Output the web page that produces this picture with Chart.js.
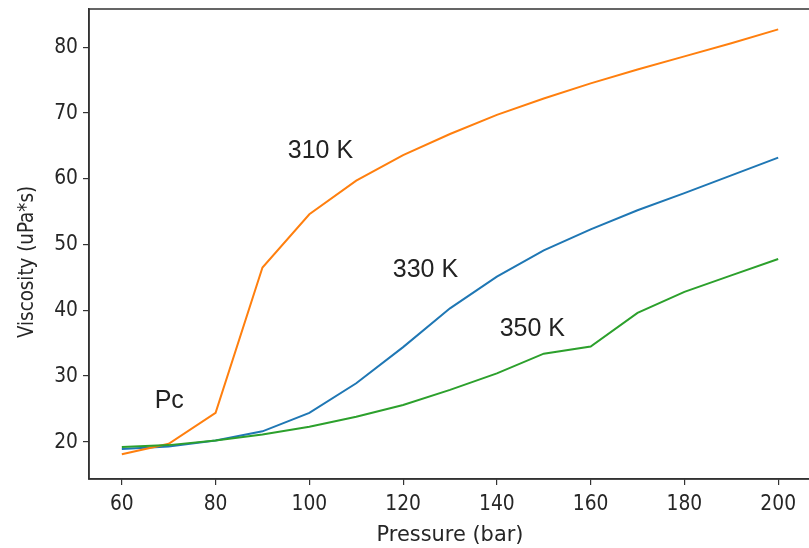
<!DOCTYPE html>
<html>
<head>
<meta charset="utf-8">
<script src="https://cdn.jsdelivr.net/npm/chart.js@4/dist/chart.umd.min.js"></script>
<style>
  html, body { margin: 0; padding: 0; background: #fff; overflow: hidden; }
  #wrap { position: absolute; left: 0; top: 0; width: 816px; height: 548px; }
</style>
</head>
<body>
<div id="wrap"><canvas id="c" width="816" height="548"></canvas></div>
<script>
// Pressure in bar
const pressures = [60, 70, 80, 90, 100, 110, 120, 130, 140, 150, 160, 170, 180, 190, 200];
// Viscosity in uPa*s at each temperature
const visc310 = [18.1, 19.7, 24.4, 46.5, 54.6, 59.7, 63.6, 66.8, 69.7, 72.2, 74.5, 76.6, 78.6, 80.6, 82.7];
const visc330 = [18.9, 19.3, 20.2, 21.6, 24.4, 28.9, 34.4, 40.3, 45.1, 49.1, 52.3, 55.2, 57.8, 60.5, 63.2];
const visc350 = [19.2, 19.5, 20.2, 21.1, 22.3, 23.8, 25.6, 27.9, 30.4, 33.4, 34.5, 39.6, 42.8, 45.3, 47.8];

const xTicks = [60, 80, 100, 120, 140, 160, 180, 200];
const yTicks = [20, 30, 40, 50, 60, 70, 80];
const xTickLabels = ['60', '80', '100', '120', '140', '160', '180', '200'];
const yTickLabels = ['20', '30', '40', '50', '60', '70', '80'];
const xTitle = 'Pressure (bar)';
const yTitle = 'Viscosity (uPa*s)';

// Text labels placed in data coordinates
const labels = [
  { text: '310 K', x: 95.4, y: 63.1 },
  { text: '330 K', x: 117.8, y: 45.0 },
  { text: '350 K', x: 140.6, y: 36.1 },
  { text: 'Pc', x: 67.0, y: 25.1 }
];

const toPoints = vals => pressures.map((p, i) => ({ x: p, y: vals[i] }));

const frameColor = '#333333';
const textColor = '#262626';

// Draw a string narrowed along its own direction by the given factor
function narrowText(ctx, str, x, y, fontPx, squeeze, align, rotate) {
  ctx.save();
  ctx.translate(x, y);
  if (rotate) ctx.rotate(rotate);
  ctx.scale(squeeze, 1);
  ctx.font = fontPx + 'px "DejaVu Sans", sans-serif';
  ctx.fillStyle = textColor;
  ctx.textAlign = align;
  ctx.textBaseline = 'middle';
  ctx.fillText(str, 0, 0);
  ctx.restore();
}

const annotate = {
  id: 'annotate',
  afterDatasetsDraw(chart) {
    const { ctx, scales } = chart;
    ctx.save();
    ctx.font = '25px "Liberation Sans", Arial, sans-serif';
    ctx.fillStyle = '#222';
    ctx.textAlign = 'left';
    ctx.textBaseline = 'alphabetic';
    labels.forEach(l => {
      ctx.fillText(l.text, scales.x.getPixelForValue(l.x), scales.y.getPixelForValue(l.y));
    });
    ctx.restore();
  },
  afterDraw(chart) {
    const a = chart.chartArea;
    const ctx = chart.ctx;
    const { x, y } = chart.scales;
    ctx.save();
    ctx.strokeStyle = frameColor;
    ctx.lineWidth = 1.5;
    ctx.strokeRect(a.left, a.top, a.right - a.left, a.bottom - a.top);
    ctx.restore();
    xTicks.forEach((v, i) => narrowText(ctx, xTickLabels[i], x.getPixelForValue(v), a.bottom + 25, 22, 0.85, 'center'));
    yTicks.forEach((v, i) => narrowText(ctx, yTickLabels[i], a.left - 11, y.getPixelForValue(v), 22, 0.85, 'right'));
    narrowText(ctx, xTitle, (a.left + a.right) / 2, 535, 22, 0.95, 'center');
    narrowText(ctx, yTitle, 27, 262, 22, 0.83, 'center', -Math.PI / 2);
  }
};

new Chart(document.getElementById('c'), {
  type: 'line',
  data: {
    datasets: [
      { label: '330 K', data: toPoints(visc330), borderColor: '#1f77b4', order: 2 },
      { label: '310 K', data: toPoints(visc310), borderColor: '#ff7f0e', order: 1 },
      { label: '350 K', data: toPoints(visc350), borderColor: '#2ca02c', order: 0 }
    ]
  },
  options: {
    responsive: false,
    animation: false,
    devicePixelRatio: 1,
    layout: { padding: { left: 0, top: 9, right: 5, bottom: 0 } },
    elements: {
      line: { borderWidth: 2, tension: 0, fill: false },
      point: { radius: 0 }
    },
    plugins: { legend: { display: false }, tooltip: { enabled: false } },
    scales: {
      x: {
        type: 'linear',
        min: 53,
        max: 207,
        afterBuildTicks: s => { s.ticks = xTicks.map(v => ({ value: v })); },
        afterFit: s => { s.height = 69; },
        grid: { drawOnChartArea: false, drawTicks: true, tickLength: 6, color: frameColor, lineWidth: 1.2 },
        border: { display: true, color: frameColor, width: 1.5 },
        ticks: { display: false }
      },
      y: {
        type: 'linear',
        min: 14.35,
        max: 85.8,
        afterBuildTicks: s => { s.ticks = yTicks.map(v => ({ value: v })); },
        afterFit: s => { s.width = 89; },
        grid: { drawOnChartArea: false, drawTicks: true, tickLength: 6, color: frameColor, lineWidth: 1.2 },
        border: { display: true, color: frameColor, width: 1.5 },
        ticks: { display: false }
      }
    }
  },
  plugins: [annotate]
});
</script>
</body>
</html>
